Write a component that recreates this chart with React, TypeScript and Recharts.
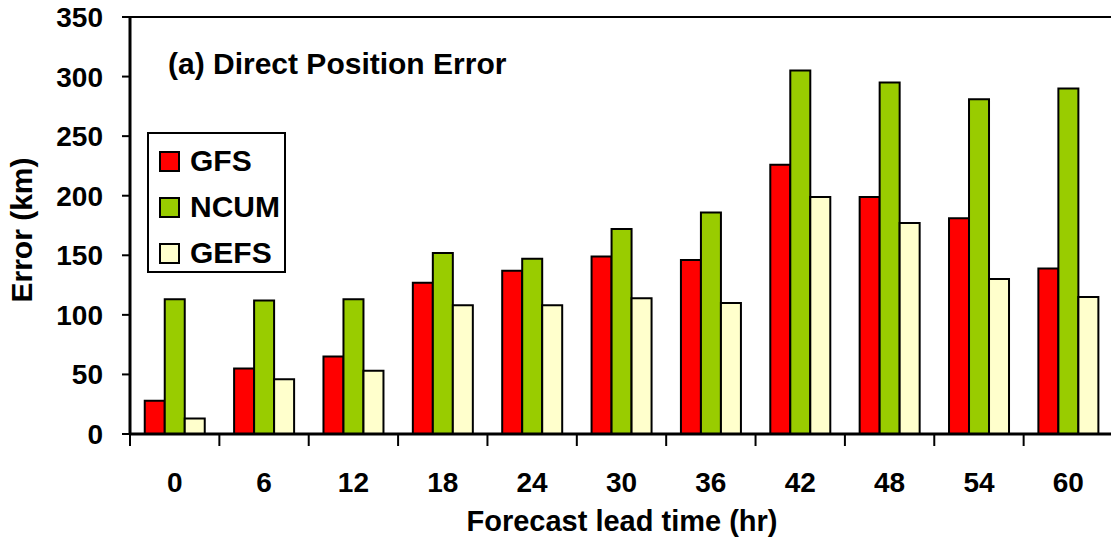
import { BarChart, Bar, XAxis, YAxis, Legend, ReferenceLine } from "recharts";

const leadTimes = ["0", "6", "12", "18", "24", "30", "36", "42", "48", "54", "60"];
const seriesOrder = ["GFS", "NCUM", "GEFS"];
const gfs = [28, 55, 65, 127, 137, 149, 146, 226, 199, 181, 139];
const ncum = [113, 112, 113, 152, 147, 172, 186, 305, 295, 281, 290];
const gefs = [13, 46, 53, 108, 108, 114, 110, 199, 177, 130, 115];
const yTicks = [0, 50, 100, 150, 200, 250, 300, 350];

const data = leadTimes.map((t, i) => ({
  t,
  GFS: gfs[i],
  NCUM: ncum[i],
  GEFS: gefs[i],
}));

const FONT = "'Liberation Sans', Arial, sans-serif";
const W = 1113;
const H = 543;
const LEFT = 130;
const BAND = (W - LEFT) / leadTimes.length;

const XTick = (props: any) => {
  const { x, y, payload, index } = props;
  const left = x - BAND / 2;
  return (
    <g>
      <line x1={left} y1={y} x2={left} y2={y + 12} stroke="#000" strokeWidth={2} />
      {index === leadTimes.length - 1 && (
        <line x1={x + BAND / 2} y1={y} x2={x + BAND / 2} y2={y + 12} stroke="#000" strokeWidth={2} />
      )}
      <text
        x={x}
        y={y + 58}
        textAnchor="middle"
        fontFamily={FONT}
        fontWeight="bold"
        fontSize={28}
        fill="#000"
      >
        {payload.value}
      </text>
    </g>
  );
};

const LegendBox = (props: any) => {
  const items = [...(props.payload || [])].sort(
    (a: any, b: any) => seriesOrder.indexOf(a.value) - seriesOrder.indexOf(b.value)
  );
  return (
    <div
      style={{
        width: 135,
        height: 133,
        border: "2px solid #000",
        background: "#fff",
        boxSizing: "content-box",
        paddingTop: 4,
      }}
    >
      {items.map((p: any) => (
        <div
          key={p.value}
          style={{ display: "flex", alignItems: "center", height: 46, paddingLeft: 10 }}
        >
          <span
            style={{
              width: 17,
              height: 17,
              background: p.color,
              border: "2px solid #000",
              marginRight: 10,
            }}
          />
          <span style={{ fontFamily: FONT, fontWeight: "bold", fontSize: 30, color: "#000" }}>
            {p.value}
          </span>
        </div>
      ))}
    </div>
  );
};

export default function App() {
  return (
    <div
      style={{
        position: "absolute",
        left: 0,
        top: 0,
        width: 1111,
        height: 543,
        overflow: "hidden",
        background: "#fff",
      }}
    >
      <BarChart
        width={W}
        height={H}
        data={data}
        margin={{ top: 17, right: 0, left: 0, bottom: 0 }}
        barCategoryGap="16.5%"
        barGap={0}
      >
        <XAxis
          dataKey="t"
          height={109}
          axisLine={{ stroke: "#000", strokeWidth: 3 }}
          tickLine={false}
          tickSize={0}
          tickMargin={0}
          tick={<XTick />}
          interval={0}
        />
        <YAxis
          width={LEFT}
          domain={[0, 350]}
          ticks={yTicks}
          interval={0}
          axisLine={{ stroke: "#000", strokeWidth: 3 }}
          tickLine={{ stroke: "#000", strokeWidth: 2 }}
          tickSize={8}
          tickMargin={19}
          tick={{ fontFamily: FONT, fontWeight: "bold", fontSize: 28, fill: "#000" }}
        />
        <ReferenceLine y={350} stroke="#000" strokeWidth={2} />
        <Legend
          layout="horizontal"
          verticalAlign="middle"
          align="center"
          content={<LegendBox />}
          wrapperStyle={{ position: "absolute", left: 147, top: 132, width: "auto" }}
        />
        <Bar dataKey="GFS" fill="#FF0000" stroke="#000" strokeWidth={2} isAnimationActive={false} />
        <Bar dataKey="NCUM" fill="#99CC00" stroke="#000" strokeWidth={2} isAnimationActive={false} />
        <Bar dataKey="GEFS" fill="#FFFFCC" stroke="#000" strokeWidth={2} isAnimationActive={false} />
        <text x={168} y={74} fontFamily={FONT} fontWeight="bold" fontSize={30} fill="#000">
          (a) Direct Position Error
        </text>
        <text
          x={622}
          y={531}
          textAnchor="middle"
          fontFamily={FONT}
          fontWeight="bold"
          fontSize={29}
          fill="#000"
        >
          Forecast lead time (hr)
        </text>
        <text
          x={32}
          y={230}
          transform="rotate(-90 32 230)"
          textAnchor="middle"
          fontFamily={FONT}
          fontWeight="bold"
          fontSize={30}
          fill="#000"
        >
          Error (km)
        </text>
      </BarChart>
    </div>
  );
}
